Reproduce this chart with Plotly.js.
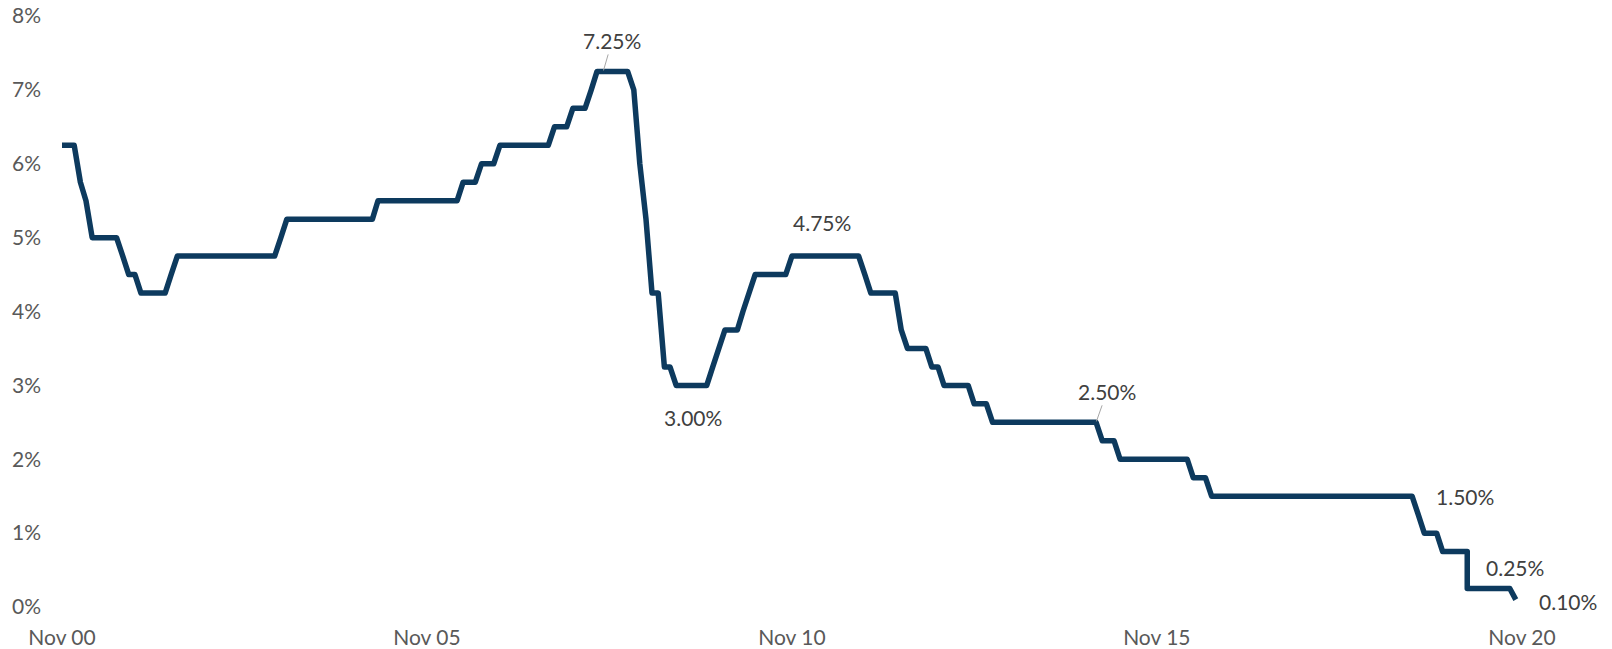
<!DOCTYPE html>
<html>
<head>
<meta charset="utf-8">
<script src="https://cdn.plot.ly/plotly-3.0.1.min.js"></script>
<style>
  html, body { margin: 0; padding: 0; background: #ffffff; }
  #chart { width: 1612px; height: 649px; }
  .scatterlayer .js-line { stroke-linejoin: round !important; }
</style>
</head>
<body>
<div id="chart"></div>
<script>
// Month of each observation (as plotted; Feb 2020 carries two observations)
const months = [
  "2000-11","2000-12",
  "2001-01","2001-02","2001-03","2001-04","2001-05","2001-06","2001-07","2001-08","2001-09","2001-10","2001-11","2001-12",
  "2002-01","2002-02","2002-03","2002-04","2002-05","2002-06","2002-07","2002-08","2002-09","2002-10","2002-11","2002-12",
  "2003-01","2003-02","2003-03","2003-04","2003-05","2003-06","2003-07","2003-08","2003-09","2003-10","2003-11","2003-12",
  "2004-01","2004-02","2004-03","2004-04","2004-05","2004-06","2004-07","2004-08","2004-09","2004-10","2004-11","2004-12",
  "2005-01","2005-02","2005-03","2005-04","2005-05","2005-06","2005-07","2005-08","2005-09","2005-10","2005-11","2005-12",
  "2006-01","2006-02","2006-03","2006-04","2006-05","2006-06","2006-07","2006-08","2006-09","2006-10","2006-11","2006-12",
  "2007-01","2007-02","2007-03","2007-04","2007-05","2007-06","2007-07","2007-08","2007-09","2007-10","2007-11","2007-12",
  "2008-01","2008-02","2008-03","2008-04","2008-05","2008-06","2008-07","2008-08","2008-09","2008-10","2008-11","2008-12",
  "2009-01","2009-02","2009-03","2009-04","2009-05","2009-06","2009-07","2009-08","2009-09","2009-10","2009-11","2009-12",
  "2010-01","2010-02","2010-03","2010-04","2010-05","2010-06","2010-07","2010-08","2010-09","2010-10","2010-11","2010-12",
  "2011-01","2011-02","2011-03","2011-04","2011-05","2011-06","2011-07","2011-08","2011-09","2011-10","2011-11","2011-12",
  "2012-01","2012-02","2012-03","2012-04","2012-05","2012-06","2012-07","2012-08","2012-09","2012-10","2012-11","2012-12",
  "2013-01","2013-02","2013-03","2013-04","2013-05","2013-06","2013-07","2013-08","2013-09","2013-10","2013-11","2013-12",
  "2014-01","2014-02","2014-03","2014-04","2014-05","2014-06","2014-07","2014-08","2014-09","2014-10","2014-11","2014-12",
  "2015-01","2015-02","2015-03","2015-04","2015-05","2015-06","2015-07","2015-08","2015-09","2015-10","2015-11","2015-12",
  "2016-01","2016-02","2016-03","2016-04","2016-05","2016-06","2016-07","2016-08","2016-09","2016-10","2016-11","2016-12",
  "2017-01","2017-02","2017-03","2017-04","2017-05","2017-06","2017-07","2017-08","2017-09","2017-10","2017-11","2017-12",
  "2018-01","2018-02","2018-03","2018-04","2018-05","2018-06","2018-07","2018-08","2018-09","2018-10","2018-11","2018-12",
  "2019-01","2019-02","2019-03","2019-04","2019-05","2019-06","2019-07","2019-08","2019-09","2019-10","2019-11","2019-12",
  "2020-01","2020-02","2020-02","2020-03","2020-04","2020-05","2020-06","2020-07","2020-08","2020-09","2020-10"
];

// Cash rate, %
const cashRate = [
  6.25,6.25,
  6.25,5.75,5.50,5.00,5.00,5.00,5.00,5.00,4.75,4.50,4.50,4.25,
  4.25,4.25,4.25,4.25,4.50,4.75,4.75,4.75,4.75,4.75,4.75,4.75,
  4.75,4.75,4.75,4.75,4.75,4.75,4.75,4.75,4.75,4.75,5.00,5.25,
  5.25,5.25,5.25,5.25,5.25,5.25,5.25,5.25,5.25,5.25,5.25,5.25,
  5.25,5.25,5.50,5.50,5.50,5.50,5.50,5.50,5.50,5.50,5.50,5.50,
  5.50,5.50,5.50,5.50,5.75,5.75,5.75,6.00,6.00,6.00,6.25,6.25,
  6.25,6.25,6.25,6.25,6.25,6.25,6.25,6.50,6.50,6.50,6.75,6.75,
  6.75,7.00,7.25,7.25,7.25,7.25,7.25,7.25,7.00,6.00,5.25,4.25,
  4.25,3.25,3.25,3.00,3.00,3.00,3.00,3.00,3.00,3.25,3.50,3.75,
  3.75,3.75,4.00,4.25,4.50,4.50,4.50,4.50,4.50,4.50,4.75,4.75,
  4.75,4.75,4.75,4.75,4.75,4.75,4.75,4.75,4.75,4.75,4.50,4.25,
  4.25,4.25,4.25,4.25,3.75,3.50,3.50,3.50,3.50,3.25,3.25,3.00,
  3.00,3.00,3.00,3.00,2.75,2.75,2.75,2.50,2.50,2.50,2.50,2.50,
  2.50,2.50,2.50,2.50,2.50,2.50,2.50,2.50,2.50,2.50,2.50,2.50,
  2.50,2.25,2.25,2.25,2.00,2.00,2.00,2.00,2.00,2.00,2.00,2.00,
  2.00,2.00,2.00,2.00,1.75,1.75,1.75,1.50,1.50,1.50,1.50,1.50,
  1.50,1.50,1.50,1.50,1.50,1.50,1.50,1.50,1.50,1.50,1.50,1.50,
  1.50,1.50,1.50,1.50,1.50,1.50,1.50,1.50,1.50,1.50,1.50,1.50,
  1.50,1.50,1.50,1.50,1.50,1.25,1.00,1.00,1.00,0.75,0.75,0.75,
  0.75,0.75,0.25,0.25,0.25,0.25,0.25,0.25,0.25,0.25,0.10
];

// Axis ticks
const xTickDates = ["2000-11-01","2005-11-01","2010-11-01","2015-11-01","2020-11-01"];
const xRange = ["2000-11-01","2020-11-01"];
const yTickVals = [0,1,2,3,4,5,6,7,8];
const yTickText = ["0%","1%","2%","3%","4%","5%","6%","7%","8%"];

// Callout labels: [month, value, text, xshift, yshift, withLeader]
const callouts = [
  ["2008-04", 7.25, "7.25%", 9, 31, true],
  ["2011-04", 4.75, "4.75%", 0, 34, false],
  ["2009-06", 3.00, "3.00%", 5, -32, false],
  ["2015-01", 2.50, "2.50%", 11, 31, true],
  ["2020-01", 1.50, "1.50%", 4, 0, false],
  ["2020-09", 0.25, "0.25%", 5, 21, false],
  ["2020-10", 0.10, "0.10%", 52, -2, false]
];

const FONT = "Lato, 'Open Sans', sans-serif";

const trace = {
  type: "scatter",
  mode: "lines",
  x: months,
  y: cashRate,
  line: { color: "#0D3A5E", width: 5.5 },
  hoverinfo: "skip"
};

const annotations = callouts.map(c => {
  const a = {
    x: c[0] + "-01", y: c[1], xref: "x", yref: "y",
    text: c[2],
    font: { family: FONT, size: 21, color: "#404040" }
  };
  if (c[5]) {
    a.showarrow = true;
    a.arrowhead = 0;
    a.arrowwidth = 1;
    a.arrowcolor = "#A6A6A6";
    a.ax = c[3];
    a.ay = -c[4];
    a.standoff = 1;
  } else {
    a.showarrow = false;
    a.xshift = c[3];
    a.yshift = c[4];
  }
  return a;
});

const layout = {
  width: 1612,
  height: 649,
  margin: { l: 62, r: 90, t: 16, b: 42 },
  paper_bgcolor: "#ffffff",
  plot_bgcolor: "#ffffff",
  showlegend: false,
  hovermode: false,
  xaxis: {
    type: "date",
    range: xRange,
    tickvals: xTickDates,
    tickformat: "%b %y",
    showgrid: false,
    zeroline: false,
    showline: false,
    ticks: "",
    ticklabelstandoff: 16,
    tickfont: { family: FONT, size: 21, color: "#595959" },
    automargin: false
  },
  yaxis: {
    range: [0, 8],
    tickvals: yTickVals,
    ticktext: yTickText,
    showgrid: false,
    zeroline: false,
    showline: false,
    ticks: "",
    ticklabelstandoff: 20,
    tickfont: { family: FONT, size: 21, color: "#595959" },
    automargin: false
  },
  annotations: annotations
};

Plotly.newPlot("chart", [trace], layout, { displayModeBar: false, staticPlot: true });
</script>
</body>
</html>
